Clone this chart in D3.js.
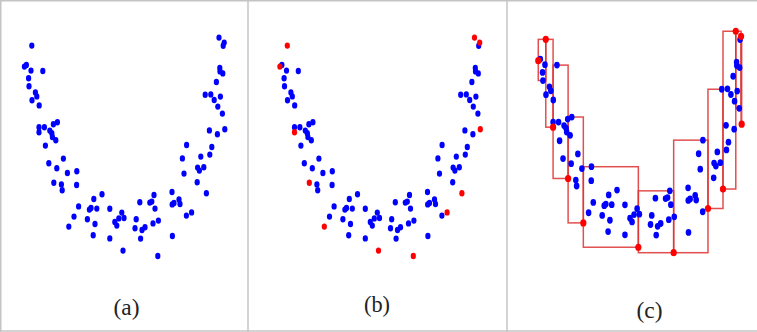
<!DOCTYPE html>
<html>
<head>
<meta charset="utf-8">
<script src="https://cdn.jsdelivr.net/npm/d3@7"></script>
<style>
  body { margin: 0; background: #fff; }
  svg { display: block; }
</style>
</head>
<body>
<div id="chart"></div>
<script>
// U-shaped point cloud (arbitrary units)
var xs = [5.9, 2.2, 3.2, 5.5, 11.4, 4.3, 4.5, 7.7, 8.4, 6.0,
  9.6, 9.5, 9.5, 12.2, 16.7, 18.7, 14.9, 15.9, 16.2, 17.9,
  12.7, 21.7, 14.4, 18.4, 23.7, 28.4, 16.9, 20.7, 21.1, 28.3,
  41.0, 36.9, 29.3, 35.5, 34.7, 38.4, 44.9, 27.0, 33.7, 37.5,
  24.4, 36.6, 44.9, 50.9, 49.4, 47.4, 48.4, 52.0, 51.5,
  59.9, 58.1, 57.5, 60.3, 61.0, 62.5, 64.9, 65.9, 67.0, 67.5,
  66.5, 69.2, 68.9, 76.0, 76.1, 77.0, 79.5, 80.0, 76.2, 83.2,
  85.8, 81.2, 83.3, 82.0, 88.6, 93.2, 88.8, 89.7, 91.9, 90.4,
  94.9, 95.9, 94.7, 98.7, 102.4, 101.2, 98.9, 100.2, 97.1, 95.4,
  92.6, 98.2, 99.9, 100.0, 101.4, 99.5, 102.1, 101.6];
var ys = [112.2, 101.7, 102.5, 99.7, 99.5, 95.9, 91.9, 88.8, 86.8, 84.9,
  82.3, 71.4, 68.9, 71.4, 72.9, 73.9, 69.7, 68.4, 66.5, 64.9,
  62.2, 55.7, 53.4, 50.9, 48.5, 49.4, 43.6, 42.8, 39.9, 42.5,
  37.9, 35.5, 31.8, 31.0, 30.2, 30.7, 30.6, 26.7, 25.4, 23.0,
  21.7, 17.4, 15.8, 28.7, 25.8, 24.0, 22.2, 26.0, 9.7,
  33.9, 25.4, 20.9, 15.7, 20.0, 21.4, 33.7, 34.2, 37.5, 30.7,
  23.3, 24.7, 7.0, 39.0, 32.8, 33.5, 35.3, 33.0, 17.0, 27.2,
  28.8, 55.8, 62.5, 48.2, 43.9, 38.4, 51.2, 49.7, 51.4, 56.7,
  57.7, 61.5, 69.8, 67.9, 70.4, 78.2, 81.7, 86.7, 85.0, 87.8,
  87.6, 94.0, 101.0, 99.3, 98.3, 116.2, 113.7, 112.1];
// indices of the selected (red) points
var redIdx = [0, 1, 12, 26, 40, 48, 61, 69, 74, 83, 94, 95];
var labels = ["(a)", "(b)", "(c)"];

var svgWidth = 757;
var svgHeight = 332;

var svg = d3.select("#chart")
  .append("svg")
  .attr("width", svgWidth)
  .attr("height", svgHeight);

var points = xs.map(function (x, i) {
  return { x: x, y: ys[i], red: redIdx.indexOf(i) >= 0 };
});

// one pair of scales per panel
var panels = [
  { x: d3.scaleLinear().domain([0, 100]).range([20, 220]),
    y: d3.scaleLinear().domain([0, 100]).range([270, 70]),
    rx: 2.6, ry: 3.2, showRed: false, labelX: 126.5, labelY: 315 },
  { x: d3.scaleLinear().domain([0, 100]).range([275.5, 475.5]),
    y: d3.scaleLinear().domain([0, 100]).range([270, 70]),
    rx: 2.6, ry: 3.2, showRed: true, labelX: 377, labelY: 312 },
  { x: d3.scaleLinear().domain([0, 100]).range([533.8, 736.8]),
    y: d3.scaleLinear().domain([0, 100]).range([266.9, 64.1]),
    rx: 2.8, ry: 3.4, showRed: true, labelX: 649.5, labelY: 318 }
];

// frame and dividers
var frame = svg.append("g")
  .attr("stroke", "#c4c4c4")
  .attr("stroke-width", 1.5);
frame.append("line").attr("x1", 0.75).attr("y1", 0).attr("x2", 0.75).attr("y2", svgHeight);
frame.append("line").attr("x1", 0).attr("y1", 0.75).attr("x2", svgWidth).attr("y2", 0.75);
frame.append("line").attr("x1", 0).attr("y1", 331).attr("x2", svgWidth).attr("y2", 331);
frame.append("line").attr("x1", 248).attr("y1", 0).attr("x2", 248).attr("y2", svgHeight);
frame.append("line").attr("x1", 507).attr("y1", 0).attr("x2", 507).attr("y2", svgHeight);

// boxes between consecutive selected points (panel c)
var reds = points.filter(function (d) { return d.red; })
  .sort(function (a, b) { return a.x - b.x; });
var boxes = d3.pairs(reds).map(function (p) {
  var inside = points.filter(function (d) { return d.x >= p[0].x && d.x <= p[1].x; });
  return { x0: p[0].x, x1: p[1].x,
    y0: d3.min(inside, d => d.y), y1: d3.max(inside, d => d.y) };
});

var pc = panels[2];
svg.append("g")
  .selectAll("rect")
  .data(boxes)
  .enter()
  .append("rect")
  .attr("x", d => pc.x(d.x0))
  .attr("y", d => pc.y(d.y1))
  .attr("width", d => pc.x(d.x1) - pc.x(d.x0))
  .attr("height", d => pc.y(d.y0) - pc.y(d.y1))
  .attr("fill", "none")
  .attr("stroke", "#dd3030")
  .attr("stroke-opacity", 0.85)
  .attr("stroke-width", 1.5);

panels.forEach(function (p, k) {
  var g = svg.append("g");
  var sorted = points.slice().sort(function (a, b) {
    return (p.showRed && a.red ? 1 : 0) - (p.showRed && b.red ? 1 : 0);
  });
  g.selectAll("ellipse")
    .data(sorted)
    .enter()
    .append("ellipse")
    .attr("cx", d => p.x(d.x))
    .attr("cy", d => p.y(d.y))
    .attr("rx", d => (p.showRed && d.red && k === 2) ? 3.1 : p.rx)
    .attr("ry", d => (p.showRed && d.red && k === 2) ? 3.6 : p.ry)
    .attr("fill", d => (p.showRed && d.red) ? "#ff0000" : "#0000ff");

  svg.append("text")
    .attr("x", p.labelX)
    .attr("y", p.labelY)
    .attr("text-anchor", "middle")
    .attr("textLength", 26)
    .attr("lengthAdjust", "spacingAndGlyphs")
    .style("font-family", "'Liberation Serif', 'DejaVu Serif', serif")
    .style("font-size", "24px")
    .style("fill", "#222")
    .text(labels[k]);
});
</script>
</body>
</html>
